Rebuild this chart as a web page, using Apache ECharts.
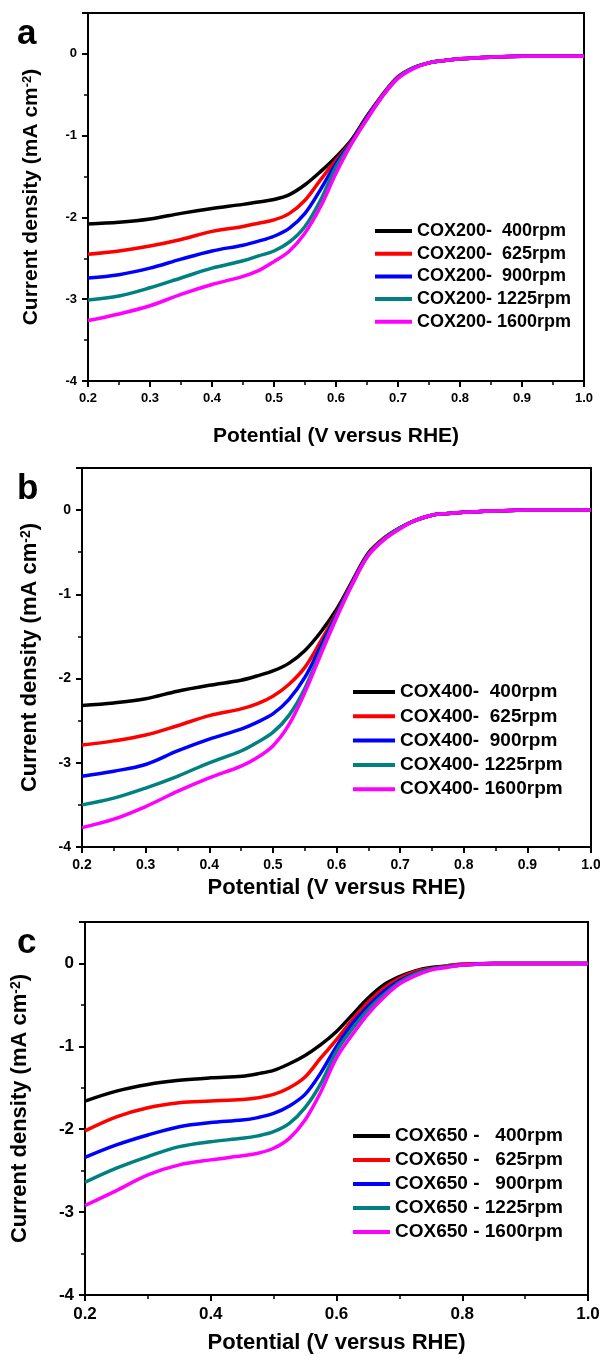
<!DOCTYPE html>
<html>
<head>
<meta charset="utf-8">
<script src="https://cdn.jsdelivr.net/npm/echarts@6/dist/echarts.min.js"></script>
<style>
  html, body { margin:0; padding:0; background:#fff; }
  #chart { width:600px; height:1356px; }
</style>
</head>
<body>
<div id="chart"></div>
<script>
// potential (V vs RHE), shared by every curve
const potential = [0.2,0.25,0.3,0.35,0.4,0.45,0.475,0.5,0.525,0.55,0.575,0.6,0.625,0.65,0.675,0.7,0.725,0.75,0.775,0.8,0.85,0.9,0.95,1.0];

const rpmNames = ['400rpm', '625rpm', '900rpm', '1225rpm', '1600rpm'];
const lineColors = ['#000000', '#ff0000', '#0000ff', '#008080', '#ff00ff'];

// panel a - COX200
const labelsA = ['COX200-  400rpm', 'COX200-  625rpm', 'COX200-  900rpm', 'COX200- 1225rpm', 'COX200- 1600rpm'];
const a400  = [-2.08,-2.06,-2.02,-1.95,-1.89,-1.84,-1.81,-1.78,-1.72,-1.60,-1.44,-1.26,-1.05,-0.76,-0.50,-0.28,-0.17,-0.11,-0.08,-0.06,-0.04,-0.03,-0.03,-0.03];
const a625  = [-2.45,-2.41,-2.35,-2.27,-2.17,-2.11,-2.07,-2.03,-1.95,-1.79,-1.54,-1.30,-1.07,-0.77,-0.50,-0.28,-0.17,-0.11,-0.08,-0.06,-0.04,-0.03,-0.03,-0.03];
const a900  = [-2.74,-2.70,-2.62,-2.51,-2.41,-2.34,-2.29,-2.23,-2.13,-1.95,-1.66,-1.34,-1.08,-0.78,-0.51,-0.29,-0.17,-0.11,-0.08,-0.06,-0.04,-0.03,-0.03,-0.03];
const a1225 = [-3.01,-2.96,-2.86,-2.74,-2.62,-2.53,-2.47,-2.41,-2.30,-2.11,-1.79,-1.38,-1.09,-0.79,-0.51,-0.29,-0.17,-0.11,-0.08,-0.06,-0.04,-0.03,-0.03,-0.03];
const a1600 = [-3.26,-3.18,-3.08,-2.94,-2.82,-2.72,-2.65,-2.54,-2.41,-2.19,-1.87,-1.46,-1.10,-0.80,-0.52,-0.30,-0.18,-0.11,-0.08,-0.06,-0.04,-0.03,-0.03,-0.03];

// panel b - COX400
const labelsB = ['COX400-  400rpm', 'COX400-  625rpm', 'COX400-  900rpm', 'COX400- 1225rpm', 'COX400- 1600rpm'];
const b400  = [-2.32,-2.29,-2.24,-2.15,-2.08,-2.02,-1.97,-1.91,-1.82,-1.67,-1.45,-1.18,-0.84,-0.51,-0.33,-0.21,-0.12,-0.06,-0.04,-0.025,-0.01,0,0,0];
const b625  = [-2.79,-2.74,-2.67,-2.56,-2.44,-2.36,-2.30,-2.21,-2.07,-1.87,-1.56,-1.22,-0.85,-0.52,-0.33,-0.21,-0.12,-0.06,-0.04,-0.025,-0.01,0,0,0];
const b900  = [-3.16,-3.10,-3.02,-2.86,-2.72,-2.60,-2.52,-2.42,-2.25,-1.99,-1.62,-1.24,-0.86,-0.53,-0.34,-0.21,-0.12,-0.06,-0.04,-0.025,-0.01,0,0,0];
const b1225 = [-3.50,-3.42,-3.30,-3.16,-3.00,-2.86,-2.76,-2.64,-2.44,-2.12,-1.68,-1.26,-0.87,-0.53,-0.34,-0.21,-0.12,-0.06,-0.04,-0.025,-0.01,0,0,0];
const b1600 = [-3.77,-3.67,-3.52,-3.34,-3.18,-3.04,-2.94,-2.80,-2.55,-2.17,-1.72,-1.28,-0.88,-0.54,-0.35,-0.22,-0.12,-0.06,-0.04,-0.025,-0.01,0,0,0];

// panel c - COX650
const labelsC = ['COX650 -   400rpm', 'COX650 -   625rpm', 'COX650 -   900rpm', 'COX650 - 1225rpm', 'COX650 - 1600rpm'];
const c400  = [-1.66,-1.54,-1.46,-1.41,-1.38,-1.36,-1.33,-1.29,-1.21,-1.11,-0.98,-0.82,-0.62,-0.42,-0.26,-0.16,-0.09,-0.05,-0.03,-0.01,0,0,0,0];
const c625  = [-2.02,-1.85,-1.74,-1.68,-1.66,-1.64,-1.62,-1.58,-1.50,-1.37,-1.14,-0.92,-0.68,-0.47,-0.30,-0.18,-0.10,-0.06,-0.03,-0.01,0,0,0,0];
const c900  = [-2.34,-2.19,-2.07,-1.97,-1.92,-1.89,-1.86,-1.81,-1.72,-1.58,-1.32,-1.00,-0.73,-0.52,-0.34,-0.21,-0.12,-0.07,-0.04,-0.02,0,0,0,0];
const c1225 = [-2.64,-2.47,-2.33,-2.21,-2.15,-2.11,-2.08,-2.03,-1.93,-1.74,-1.45,-1.06,-0.79,-0.56,-0.38,-0.23,-0.13,-0.07,-0.04,-0.02,0,0,0,0];
const c1600 = [-2.92,-2.74,-2.55,-2.43,-2.37,-2.32,-2.29,-2.23,-2.11,-1.89,-1.55,-1.14,-0.86,-0.61,-0.41,-0.25,-0.15,-0.08,-0.05,-0.02,0,0,0,0];

const FONT = 'Liberation Sans, Arial, sans-serif';

// per panel layout
const panels = [
    { letter:'a', letterY:34, labels:labelsA, data:[a400,a625,a900,a1225,a1600],
      grid:{ left:88, right:16, top:13, height:368 },
      xInterval:0.1, tickFont:13, titleFont:21, xNameGap:45, yNameGap:46,
      legend:{ left:370, top:217, itemWidth:37, fontSize:18, lineHeight:18, itemGap:4.7 } },
    { letter:'b', letterY:489, labels:labelsB, data:[b400,b625,b900,b1225,b1600],
      grid:{ left:82, right:9, top:468, height:379 },
      xInterval:0.1, tickFont:14, titleFont:22, xNameGap:30, yNameGap:41,
      legend:{ left:348, top:677, itemWidth:42, fontSize:19, lineHeight:20, itemGap:4.3 } },
    { letter:'c', letterY:943, labels:labelsC, data:[c400,c625,c900,c1225,c1600],
      grid:{ left:85, right:12, top:922, height:373 },
      xInterval:0.2, tickFont:17, titleFont:22, xNameGap:37, yNameGap:54,
      legend:{ left:348, top:1121, itemWidth:37, fontSize:19, lineHeight:20, itemGap:4 } }
];

const grids = [], xAxes = [], yAxes = [], legends = [], series = [], graphics = [];

panels.forEach((p, k) => {
    grids.push(Object.assign({ show:true, borderColor:'#000', borderWidth:2, backgroundColor:'#fff', outerBoundsMode:'none' }, p.grid));
    xAxes.push({
        gridIndex:k, type:'value', min:0.2, max:1.0, interval:p.xInterval,
        name:'Potential (V versus RHE)', nameLocation:'middle', nameGap:p.xNameGap,
        nameTextStyle:{ fontFamily:FONT, fontWeight:'bold', fontSize:p.titleFont, color:'#000' },
        axisLine:{ show:true, onZero:false, lineStyle:{ color:'#000', width:2 } },
        axisTick:{ show:true, length:6, lineStyle:{ color:'#000', width:2 } },
        minorTick:{ show:true, splitNumber:2, length:4, lineStyle:{ color:'#000', width:1.5 } },
        splitLine:{ show:false },
        axisLabel:{ color:'#000', fontFamily:FONT, fontWeight:'bold', fontSize:p.tickFont, margin:11,
            formatter:v => v.toFixed(1) }
    });
    yAxes.push({
        gridIndex:k, type:'value', min:-4, max:0.5, interval:1,
        name:'{t|Current density (mA cm}{s|-2}{t|)}', nameLocation:'middle', nameGap:p.yNameGap,
        nameTextStyle:{ rich:{
            t:{ fontFamily:FONT, fontWeight:'bold', fontSize:p.titleFont, color:'#000' },
            s:{ fontFamily:FONT, fontWeight:'bold', fontSize:Math.round(p.titleFont*0.62), color:'#000', verticalAlign:'top' }
        } },
        axisLine:{ show:true, onZero:false, lineStyle:{ color:'#000', width:2 } },
        axisTick:{ show:true, length:6, lineStyle:{ color:'#000', width:2 } },
        minorTick:{ show:true, splitNumber:2, length:4, lineStyle:{ color:'#000', width:1.5 } },
        splitLine:{ show:false },
        axisLabel:{ color:'#000', fontFamily:FONT, fontWeight:'bold', fontSize:p.tickFont, margin:11,
            formatter:v => Number.isInteger(v) ? String(v) : '' }
    });
    legends.push({
        orient:'vertical', left:p.legend.left, top:p.legend.top,
        itemWidth:p.legend.itemWidth, itemHeight:4, itemGap:p.legend.itemGap,
        icon:'rect', selectedMode:false,
        textStyle:{ fontFamily:FONT, fontWeight:'bold', fontSize:p.legend.fontSize, lineHeight:p.legend.lineHeight, color:'#000' },
        data:p.labels
    });
    p.data.forEach((arr, i) => {
        series.push({
            type:'line', name:p.labels[i], xAxisIndex:k, yAxisIndex:k,
            data:potential.map((x, j) => [x, arr[j]]),
            smooth:0.35, showSymbol:false, symbol:'none',
            color:lineColors[i],
            lineStyle:{ width:3.5, color:lineColors[i] },
            z:2 + i
        });
    });
    graphics.push({
        type:'text', x:17, y:p.letterY,
        style:{ text:p.letter, font:'bold 35px ' + FONT, fill:'#000', verticalAlign:'middle' }
    });
});

const chart = echarts.init(document.getElementById('chart'));
chart.setOption({
    animation:false,
    backgroundColor:'#fff',
    grid:grids,
    xAxis:xAxes,
    yAxis:yAxes,
    legend:legends,
    series:series,
    graphic:graphics
});
</script>
</body>
</html>
